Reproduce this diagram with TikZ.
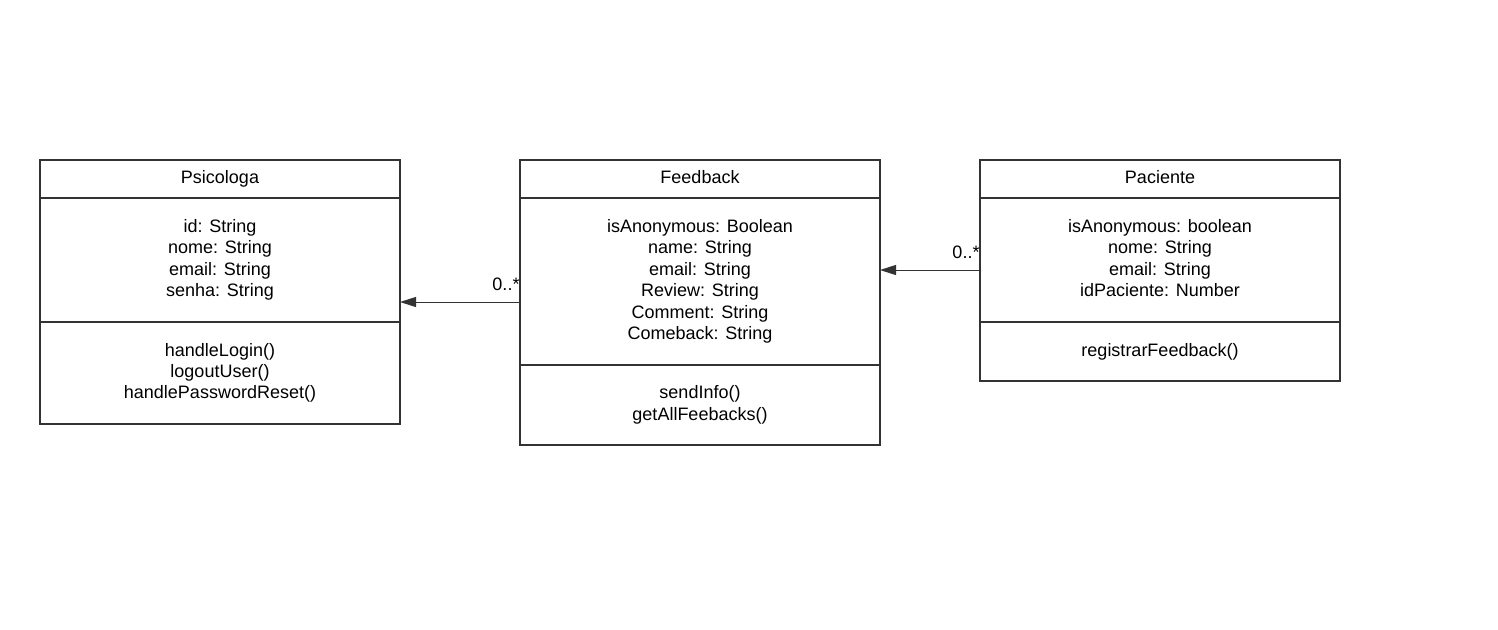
\documentclass[tikz,border=0pt]{standalone}
\usepackage{fontspec}
\setmainfont{Liberation Sans}
\usetikzlibrary{arrows.meta,positioning}
\definecolor{umlline}{RGB}{51,51,51}

\begin{document}
\begin{tikzpicture}[
    x=0.75pt, y=-0.75pt,
    node distance=0pt,
    cell/.style={rectangle, draw=umlline, line width=1.5pt, outer sep=0pt, inner sep=0pt, align=center, minimum width=270pt, text depth=3pt, font=\fontsize{13.5}{16.1}\selectfont},
    head/.style={cell, minimum height=28.5pt},
    arrow/.style={-{Triangle[length=12pt,width=7.5pt]}, draw=umlline, line width=0.75pt},
    mult/.style={anchor=south east, inner sep=0pt, yshift=8pt, font=\fontsize{13.5}{16.1}\selectfont}
]
    \useasboundingbox[fill=white] (0,0) rectangle (1498,629);

    \node[head] (psiHead) at (220,179) {Psicologa};
    \node[cell, minimum height=93pt, below=of psiHead] (psiAttr) {id: String\\nome: String\\email: String\\senha: String};
    \node[cell, minimum height=76.5pt, below=of psiAttr] (psiMeth) {handleLogin()\\logoutUser()\\handlePasswordReset()};

    \node[head] (fbHead) at (700,179) {Feedback};
    \node[cell, minimum height=125.25pt, below=of fbHead] (fbAttr) {isAnonymous: Boolean\\name: String\\email: String\\Review: String\\Comment: String\\Comeback: String};
    \node[cell, minimum height=60pt, below=of fbAttr] (fbMeth) {sendInfo()\\getAllFeebacks()};

    \node[head] (pacHead) at (1160,179) {Paciente};
    \node[cell, minimum height=93pt, below=of pacHead] (pacAttr) {isAnonymous: boolean\\nome: String\\email: String\\idPaciente: Number};
    \node[cell, minimum height=44.25pt, below=of pacAttr] (pacMeth) {registrarFeedback()};

    \coordinate (fbLeft) at (520,302);
    \coordinate (pacLeft) at (980,270);

    \draw[arrow] (fbLeft) node[mult] {0..*} -- (fbLeft -| psiAttr.east);
    \draw[arrow] (pacLeft) node[mult] {0..*} -- (pacLeft -| fbAttr.east);
\end{tikzpicture}
\end{document}
